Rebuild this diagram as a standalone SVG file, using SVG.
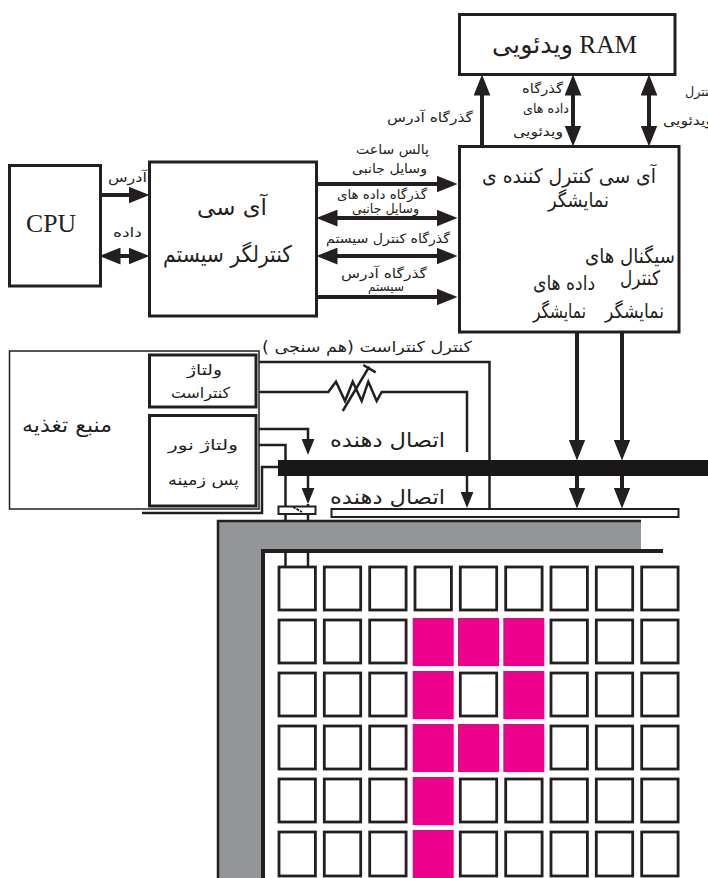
<svg xmlns="http://www.w3.org/2000/svg" width="708" height="878" viewBox="0 0 708 878">
<style>
.box{fill:#fff;stroke:#231f20;stroke-width:3}
.thin{fill:#fff;stroke:#231f20;stroke-width:1.5}
.w{fill:none;stroke:#231f20;stroke-width:2.5}
.b{fill:none;stroke:#231f20;stroke-width:4}
.hd{marker-end:url(#ah)}
.bi{marker-end:url(#ah);marker-start:url(#ah)}
.sm{marker-end:url(#as)}
.c{fill:#fff;stroke:#231f20;stroke-width:2.8}
.m{fill:#ec008c}
text{fill:#231f20;font-family:"Liberation Serif","DejaVu Sans",serif;text-anchor:middle}
.fa{font-family:"DejaVu Sans","Liberation Serif",sans-serif;direction:rtl}
.rt{direction:rtl}
.s12{font-size:13px}.s14{font-size:15px}.s18{font-size:20px}.s21{font-size:23px}
</style>
<defs>
<marker id="ah" markerUnits="userSpaceOnUse" markerWidth="21" markerHeight="17" viewBox="0 0 20 16" refX="10" refY="8" orient="auto-start-reverse"><path d="M0 0L20 8L0 16z" fill="#231f20"/></marker>
<marker id="as" markerUnits="userSpaceOnUse" markerWidth="16" markerHeight="13" viewBox="0 0 15 12" refX="7.5" refY="6" orient="auto"><path d="M0 0L15 6L0 12z" fill="#231f20"/></marker>
</defs>

<g id="connectors">
<path class="b hd" d="M482 146V85"/>
<path class="b bi" d="M573 85V136"/>
<path class="b bi" d="M649 85V136"/>
<path class="b hd" d="M100 195H139"/>
<path class="b bi" d="M110 256H139"/>
<path class="b hd" d="M316 184H447"/>
<path class="b bi" d="M327 218H447"/>
<path class="b bi" d="M327 256H447"/>
<path class="b hd" d="M316 297H447"/>
<path class="w" d="M256 362H489.500V510"/>
<path class="w" d="M256 392H328.300L336 381.700L345 401L352.700 381.700L361.700 401L368.300 381.700L376.700 401L381.700 392H467V452"/>
<path class="w sm" d="M467 476V500"/>
<path class="w" d="M342.700 411L369.300 366.700M363.300 365L375.700 372.300"/>
<path class="w sm" d="M256 429H308V447"/>
<path class="w sm" d="M308 476V496"/>
<path class="w" d="M308 504V521M256 445H285.500V521M285.500 551V566M308 551V566"/>
<path class="w" d="M142 513H262V467H278"/>
<path class="b hd" d="M577 332V450"/>
<path class="b hd" d="M622 332V450"/>
<path class="b hd" d="M577 476V498"/>
<path class="b hd" d="M622 476V498"/>
<rect id="bus-bar" x="278" y="460" width="430" height="16" fill="#1a1718"/>
</g>

<g id="lcd-panel">
<path d="M218 521H641V549H263V878H218z" fill="#939598"/>
<path class="w" d="M218 878V521H641"/>
<path class="b" d="M263 878V551H663"/>
</g>

<g id="video-ram"><rect class="box" x="459.500" y="14.500" width="215.500" height="60"/>
<text class="rt" x="564.500" y="53" font-size="25" textLength="145" lengthAdjust="spacingAndGlyphs">RAM ویدئویی</text></g>

<g id="cpu"><rect class="box" x="9.500" y="165.500" width="91" height="120.500"/>
<text x="51" y="232" font-size="25.700">CPU</text></g>

<g id="system-controller"><rect class="box" x="149.500" y="162" width="167" height="154"/>
<text class="fa s21" x="232" y="215" textLength="70" lengthAdjust="spacingAndGlyphs">آی سی</text>
<text class="fa s21" x="227.500" y="262" textLength="129" lengthAdjust="spacingAndGlyphs">کنترلگر سیستم</text></g>

<g id="display-controller"><rect class="box" x="459.500" y="146.500" width="219.500" height="185.500"/>
<text class="fa s18" x="569" y="183" textLength="174" lengthAdjust="spacingAndGlyphs">آی سی کنترل کننده ی</text>
<text class="fa s18" x="578.500" y="207" textLength="61" lengthAdjust="spacingAndGlyphs">نمایشگر</text>
<text class="fa s18" x="630" y="263" textLength="90" lengthAdjust="spacingAndGlyphs">سیگنال های</text>
<text class="fa s18" x="640" y="285" textLength="40" lengthAdjust="spacingAndGlyphs">کنترل</text>
<text class="fa s18" x="564" y="290" textLength="62" lengthAdjust="spacingAndGlyphs">داده های</text>
<text class="fa s18" x="559.500" y="318" textLength="53" lengthAdjust="spacingAndGlyphs">نمایشگر</text>
<text class="fa s18" x="634.500" y="318" textLength="59" lengthAdjust="spacingAndGlyphs">نمایشگر</text></g>

<g id="power-supply"><rect class="thin" x="9.500" y="351" width="249.500" height="158"/>
<text class="fa s18" x="67" y="432" textLength="90" lengthAdjust="spacingAndGlyphs">منبع تغذیه</text></g>

<g id="contrast-voltage"><rect class="box" x="149.500" y="355" width="106.500" height="52"/>
<text class="fa s14" x="204.500" y="375" textLength="35" lengthAdjust="spacingAndGlyphs">ولتاژ</text>
<text class="fa s14" x="200.500" y="398" textLength="59" lengthAdjust="spacingAndGlyphs">کنتراست</text></g>

<g id="backlight-voltage"><rect class="box" x="149.500" y="415.500" width="106.500" height="90.500"/>
<text class="fa s14" x="203" y="450" textLength="70" lengthAdjust="spacingAndGlyphs">ولتاژ نور</text>
<text class="fa s14" x="203.500" y="485" textLength="71" lengthAdjust="spacingAndGlyphs">پس زمینه</text></g>

<g id="connector-left"><rect x="278.500" y="506.500" width="37" height="7.500" fill="#fff" stroke="#231f20" stroke-width="2"/>
<path d="M293 507L302 512" stroke="#231f20" stroke-width="2" stroke-dasharray="3 1"/></g>
<g id="connector-right"><rect x="331.500" y="509" width="347" height="8" fill="#fff" stroke="#231f20" stroke-width="2"/></g>

<g id="cells">
<rect class="c" x="279" y="567" width="36.400" height="43"/><rect class="c" x="324.300" y="567" width="36.400" height="43"/><rect class="c" x="369.700" y="567" width="36.400" height="43"/><rect class="c" x="415" y="567" width="36.400" height="43"/><rect class="c" x="460.300" y="567" width="36.400" height="43"/><rect class="c" x="505.700" y="567" width="36.400" height="43"/><rect class="c" x="551" y="567" width="36.400" height="43"/><rect class="c" x="596.300" y="567" width="36.400" height="43"/><rect class="c" x="641.700" y="567" width="36.400" height="43"/>
<rect class="c" x="279" y="620" width="36.400" height="43"/><rect class="c" x="324.300" y="620" width="36.400" height="43"/><rect class="c" x="369.700" y="620" width="36.400" height="43"/><rect class="m" x="412.700" y="618" width="41" height="48"/><rect class="m" x="458" y="618" width="41" height="48"/><rect class="m" x="503.300" y="618" width="41" height="48"/><rect class="c" x="551" y="620" width="36.400" height="43"/><rect class="c" x="596.300" y="620" width="36.400" height="43"/><rect class="c" x="641.700" y="620" width="36.400" height="43"/>
<rect class="c" x="279" y="673" width="36.400" height="43"/><rect class="c" x="324.300" y="673" width="36.400" height="43"/><rect class="c" x="369.700" y="673" width="36.400" height="43"/><rect class="m" x="412.700" y="671" width="41" height="48"/><rect class="c" x="460.300" y="673" width="36.400" height="43"/><rect class="m" x="503.300" y="671" width="41" height="48"/><rect class="c" x="551" y="673" width="36.400" height="43"/><rect class="c" x="596.300" y="673" width="36.400" height="43"/><rect class="c" x="641.700" y="673" width="36.400" height="43"/>
<rect class="c" x="279" y="726" width="36.400" height="43"/><rect class="c" x="324.300" y="726" width="36.400" height="43"/><rect class="c" x="369.700" y="726" width="36.400" height="43"/><rect class="m" x="412.700" y="724" width="41" height="48"/><rect class="m" x="458" y="724" width="41" height="48"/><rect class="m" x="503.300" y="724" width="41" height="48"/><rect class="c" x="551" y="726" width="36.400" height="43"/><rect class="c" x="596.300" y="726" width="36.400" height="43"/><rect class="c" x="641.700" y="726" width="36.400" height="43"/>
<rect class="c" x="279" y="779" width="36.400" height="43"/><rect class="c" x="324.300" y="779" width="36.400" height="43"/><rect class="c" x="369.700" y="779" width="36.400" height="43"/><rect class="m" x="412.700" y="777" width="41" height="48"/><rect class="c" x="460.300" y="779" width="36.400" height="43"/><rect class="c" x="505.700" y="779" width="36.400" height="43"/><rect class="c" x="551" y="779" width="36.400" height="43"/><rect class="c" x="596.300" y="779" width="36.400" height="43"/><rect class="c" x="641.700" y="779" width="36.400" height="43"/>
<rect class="c" x="279" y="832" width="36.400" height="44"/><rect class="c" x="324.300" y="832" width="36.400" height="44"/><rect class="c" x="369.700" y="832" width="36.400" height="44"/><rect class="m" x="412.700" y="830" width="41" height="48"/><rect class="c" x="460.300" y="832" width="36.400" height="44"/><rect class="c" x="505.700" y="832" width="36.400" height="44"/><rect class="c" x="551" y="832" width="36.400" height="44"/><rect class="c" x="596.300" y="832" width="36.400" height="44"/><rect class="c" x="641.700" y="832" width="36.400" height="44"/>
</g>

<g id="labels">
<text class="fa s12" x="430" y="122" textLength="86" lengthAdjust="spacingAndGlyphs">گذرگاه آدرس</text>
<text class="fa s12" x="542.500" y="93" textLength="41" lengthAdjust="spacingAndGlyphs">گذرگاه</text>
<text class="fa s12" x="546" y="113" textLength="46" lengthAdjust="spacingAndGlyphs">داده های</text>
<text class="fa s12" x="538" y="136" textLength="50" lengthAdjust="spacingAndGlyphs">ویدئویی</text>
<text class="fa s12" x="700" y="96" textLength="30" lengthAdjust="spacingAndGlyphs">کنترل</text>
<text class="fa s12" x="688" y="125" textLength="50" lengthAdjust="spacingAndGlyphs">ویدئویی</text>
<text class="fa s12" x="127.500" y="182" textLength="39" lengthAdjust="spacingAndGlyphs">آدرس</text>
<text class="fa s12" x="127.500" y="237" textLength="29" lengthAdjust="spacingAndGlyphs">داده</text>
<text class="fa s12" x="392.500" y="154" textLength="73" lengthAdjust="spacingAndGlyphs">پالس ساعت</text>
<text class="fa s12" x="389.500" y="173" textLength="75" lengthAdjust="spacingAndGlyphs">وسایل جانبی</text>
<text class="fa s12" x="382" y="199" textLength="90" lengthAdjust="spacingAndGlyphs">گذرگاه داده های</text>
<text class="fa s12" x="385.500" y="213" textLength="67" lengthAdjust="spacingAndGlyphs">وسایل جانبی</text>
<text class="fa s12" x="388" y="243" textLength="124" lengthAdjust="spacingAndGlyphs">گذرگاه کنترل سیستم</text>
<text class="fa s12" x="384" y="278" textLength="86" lengthAdjust="spacingAndGlyphs">گذرگاه آدرس</text>
<text class="fa s12" x="386" y="291" textLength="36" lengthAdjust="spacingAndGlyphs">سیستم</text>
<text class="fa s14" x="367" y="352" textLength="210" lengthAdjust="spacingAndGlyphs">کنترل کنتراست (هم سنجی )</text>
<text class="fa s18" x="387.500" y="447" textLength="115" lengthAdjust="spacingAndGlyphs">اتصال دهنده</text>
<text class="fa s18" x="387.500" y="504" textLength="115" lengthAdjust="spacingAndGlyphs">اتصال دهنده</text>
</g>
</svg>
